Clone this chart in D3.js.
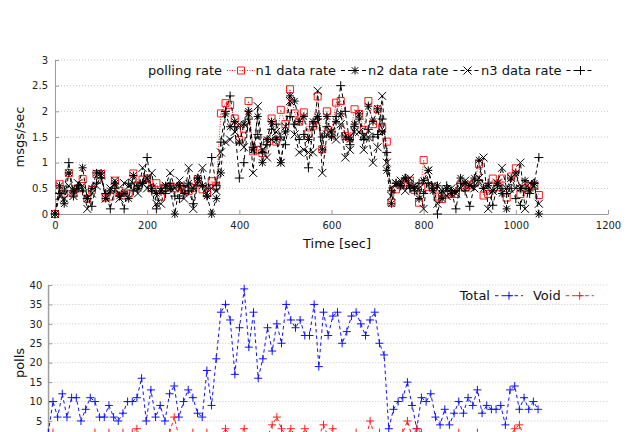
<!DOCTYPE html>
<html><head><meta charset="utf-8">
<script src="https://cdn.jsdelivr.net/npm/d3@7"></script>
<style>html,body{margin:0;padding:0;background:#fff;overflow:hidden}svg{display:block}</style>
</head><body>
<script>
// ---------- DATA ----------
const times = [0,10,20,30,40,50,60,70,80,90,100,110,120,130,140,150,160,170,180,190,200,210,220,230,240,250,260,270,280,290,300,310,320,330,340,350,360,370,380,390,400,410,420,430,440,450,460,470,480,490,500,510,520,530,540,550,560,570,580,590,600,610,620,630,640,650,660,670,680,690,700,710,720,730,740,750,760,770,780,790,800,810,820,830,840,850,860,870,880,890,900,910,920,930,940,950,960,970,980,990,1000,1010,1020,1030,1040,1050];

const pollingRate = [0,.58,.4,.8,.4,.5,.68,.3,.47,.78,.78,.32,.34,.65,.45,.36,.4,.79,.55,.67,.69,.5,.6,.34,.51,.53,.5,.53,.48,.45,.51,.68,.48,.4,.64,.55,
1.96,2.16,2.12,1.86,1.44,1.66,2.2,1.22,1.25,1.19,1.41,1.86,1.41,2.03,1.75,2.43,1.96,1.8,1.98,1.57,1.72,2.29,1.26,2.0,1.58,2.17,2.2,1.52,1.49,2.04,1.95,1.64,2.2,1.75,2.04,1.69,1.41,
.22,.48,.56,.61,.65,.47,.22,1.05,.53,.52,.34,.29,.38,.39,.39,.56,.52,.56,.6,.97,.36,.39,.69,.52,.69,.32,.73,.89,.39,.5,.55,.55,.37];

const n1Rate = [0,.55,.2,.8,.45,.5,.9,.3,.5,.8,.8,.3,.45,.6,.35,.4,.3,.75,.5,.6,.7,.5,.4,.45,.55,.5,0,.55,.4,.6,.5,.7,.55,.35,0,.3,
.8,1.95,1.7,1.8,1.4,1.75,2.0,1.25,1.9,1.0,1.45,1.8,1.45,1.0,1.6,2.3,2.2,1.8,1.9,1.45,1.8,1.9,1.25,1.9,1.5,1.8,1.95,1.5,1.45,1.75,1.95,1.5,2.1,1.8,2.05,1.6,.85,
.2,.6,.55,.7,.55,.5,.3,.65,.85,.45,.55,.3,.5,.4,.45,.7,.6,.55,.7,1.05,.5,.55,.45,.6,.4,.1,.7,.8,.5,.65,.45,.6,0];

const n2Rate = [0,.35,.3,.55,.35,.6,.55,.1,.4,.55,.75,.3,.5,.65,.3,.6,.55,.6,.4,.9,.5,.8,.2,.2,.55,.8,.5,.65,.3,.9,.1,.6,.9,.5,.5,.45,
1.2,1.4,1.45,1.6,1.75,1.3,1.95,.8,2.1,1.25,1.1,1.45,1.6,1.0,1.7,2.2,1.55,1.2,1.25,1.2,1.2,2.4,.8,1.55,1.6,1.45,1.75,1.1,1.25,1.6,1.6,1.25,1.5,1.0,1.3,2.3,1.0,
.35,.6,.65,.45,.7,.55,.5,.1,.85,.55,.2,.45,.35,.5,.4,.5,.65,.55,.5,.7,1.1,.1,.45,.6,.9,.5,.7,.5,1.0,.1,.6,.55,.2,0];

const n3Rate = [0,.4,.45,1.0,.35,.55,.45,.3,.15,.6,.7,.4,.1,.5,.35,.1,.6,.45,.55,.6,1.1,.45,.1,.5,.4,.6,.35,.3,.55,.45,.2,.7,.55,.35,1.1,.55,
1.4,2.0,2.3,1.7,.7,1.0,1.85,1.3,1.55,1.2,1.35,1.65,1.75,1.5,1.35,1.9,1.75,1.45,1.55,.9,1.7,1.85,1.5,1.7,1.6,1.9,2.5,2.0,1.35,1.7,1.85,1.45,1.65,1.5,1.55,1.85,1.2,
.45,.6,.55,.7,.5,.45,.6,.4,.6,.5,0,.45,.55,.45,.1,.6,.45,.15,.55,.65,.5,.6,.17,.55,.5,.4,.5,.3,.17,.5,.4,.6,1.1];

const totalPolls = [2,10,6,12,6,11,11,5,8,11,10,6,6,9,6,5,7,10,10,11,16,5,13,6,9,5,12,14,6,10,13,11,7,6,18,9,
21,33,35,31,17,29,39,24,33,16,21,29,23,30,25,35,31,29,31,27,27,35,19,33,27,32,33,25,28,32,33,30,27,31,33,25,22,
3,8,10,11,15,9,3,11,10,12,6,4,8,4,7,10,7,11,9,13,7,9,8,8,9,4,13,14,8,11,8,10,8];

const voidPolls = [0,2,1,0,1,0,1,0,1,0,2,1,0,2,0,1,2,0,2,3,1,0,1,0,1,0,2,6,1,0,1,2,0,1,2,1,
0,1,3,1,0,1,3,1,0,1,0,1,4,6,3,1,3,1,0,3,1,0,1,4,1,3,0,1,1,0,2,1,0,5,1,2,1,
0,1,0,2,5,1,3,2,1,0,1,0,1,0,1,2,1,0,1,2,1,0,1,0,1,0,1,3,4,1,0,1,0,1];

const xTicksTop = [0,200,400,600,800,1000,1200];
const yTicksTop = [0,0.5,1,1.5,2,2.5,3];
const yTicksBottom = [5,10,15,20,25,30,35,40];
const topLegend = ["polling rate","n1 data rate","n2 data rate","n3 data rate"];
const bottomLegend = ["Total","Void"];

// ---------- DRAW ----------
const W=634,H=432, FONT='"DejaVu Sans", sans-serif';
const svg=d3.select("body").append("svg").attr("width",W).attr("height",H);
svg.append("rect").attr("width",W).attr("height",H).attr("fill","#fff");

const xT=d3.scaleLinear().domain([0,1200]).range([55,608]);
const yT=d3.scaleLinear().domain([0,3]).range([214,60]);
const xB=d3.scaleLinear().domain([0,1200]).range([48.3,608]);
const yB=d3.scaleLinear().domain([0,40]).range([440.4,285]);

function grid(x,y,ticks){
  svg.append("g").selectAll("line").data(ticks.filter(d=>d>0)).join("line")
    .attr("x1",x.range()[0]).attr("x2",x.range()[1])
    .attr("y1",d=>y(d)).attr("y2",d=>y(d))
    .attr("stroke","#c4c4c4").attr("stroke-width",1).attr("stroke-dasharray","1,2");
}
function styleAxis(g){
  g.attr("font-family",FONT).attr("font-size",10);
  g.select(".domain").attr("stroke","#9a9a9a");
  g.selectAll(".tick line").attr("stroke","#9a9a9a");
  g.selectAll(".tick text").attr("fill","#222");
}
grid(xT,yT,yTicksTop);
grid(xB,yB,yTicksBottom);

const fmt=d3.format("~g");
svg.append("g").attr("transform","translate(55,0)")
  .call(d3.axisLeft(yT).tickValues(yTicksTop).tickSize(-4).tickSizeOuter(0).tickPadding(7).tickFormat(fmt)).call(styleAxis);
svg.append("g").attr("transform","translate(0,214)")
  .call(d3.axisBottom(xT).tickValues(xTicksTop).tickSize(-4).tickSizeOuter(0).tickPadding(8).tickFormat(fmt)).call(styleAxis);
svg.append("g").attr("transform","translate(48.3,0)")
  .call(d3.axisLeft(yB).tickValues(yTicksBottom).tickSize(-4).tickSizeOuter(0).tickPadding(6).tickFormat(fmt)).call(styleAxis);
// extend bottom-plot y axis line down to the (off-screen) origin
svg.append("line").attr("x1",48.3).attr("x2",48.3).attr("y1",yB(0)).attr("y2",yB(40)).attr("stroke","#9a9a9a");

// axis titles
svg.append("text").attr("x",337).attr("y",248).attr("text-anchor","middle")
  .attr("font-family",FONT).attr("font-size",13).attr("fill","#111").text("Time [sec]");
svg.append("text").attr("transform","translate(24,137) rotate(-90)").attr("text-anchor","middle")
  .attr("font-family",FONT).attr("font-size",13).attr("fill","#111").text("msgs/sec");
svg.append("text").attr("transform","translate(24,363) rotate(-90)").attr("text-anchor","middle")
  .attr("font-family",FONT).attr("font-size",13).attr("fill","#111").text("polls");

// markers
const M={
  plus:(x,y,r)=>`M${x-r},${y}H${x+r}M${x},${y-r}V${y+r}`,
  cross:(x,y,r)=>`M${x-r},${y-r}L${x+r},${y+r}M${x-r},${y+r}L${x+r},${y-r}`,
  star:(x,y,r)=>`M${x-r},${y}H${x+r}M${x},${y-r}V${y+r}`+(k=>`M${x-k},${y-k}L${x+k},${y+k}M${x-k},${y+k}L${x+k},${y-k}`)(r*0.8),
  square:(x,y,r)=>`M${x-r},${y-r}h${2*r}v${2*r}h${-2*r}Z`
};
function series(x,y,xs,vs,color,dash,marker,r){
  const g=svg.append("g");
  const line=d3.line().x((d,i)=>x(xs[i])).y(d=>y(d));
  g.append("path").attr("d",line(vs)).attr("fill","none").attr("stroke",color)
    .attr("stroke-width",1).attr("stroke-dasharray",dash);
  g.append("path").attr("d",vs.map((v,i)=>M[marker](x(xs[i]),y(v),r)).join(""))
    .attr("fill","none").attr("stroke",color).attr("stroke-width",1);
}
series(xT,yT,times,pollingRate,"#ff1a1a","1,1.5","square",3.5);
series(xT,yT,times,n1Rate,"#000","4,3","star",4);
series(xT,yT,times,n2Rate,"#000","4,3","cross",4);
series(xT,yT,times,n3Rate,"#000","4,3","plus",4.5);
series(xB,yB,times,totalPolls,"#1010ff","3.5,3","plus",4);
series(xB,yB,times,voidPolls,"#ff1a1a","3.5,3","plus",4);

// legends
function legend(labels,ends,y,styles){
  labels.forEach((lab,i)=>{
    const e=ends[i], s=styles[i];
    svg.append("text").attr("x",e).attr("y",y).attr("dy","0.35em").attr("text-anchor","end")
      .attr("font-family",FONT).attr("font-size",13).attr("fill","#111").text(lab);
    svg.append("line").attr("x1",e+5).attr("x2",e+33).attr("y1",y).attr("y2",y)
      .attr("stroke",s.color).attr("stroke-width",1).attr("stroke-dasharray",s.dash);
    svg.append("path").attr("d",M[s.marker](e+19,y,s.r)).attr("fill","none").attr("stroke",s.color).attr("stroke-width",1);
  });
}
legend(topLegend,[222,336,448.5,561.5],70.5,[
  {color:"#ff1a1a",dash:"1,1.5",marker:"square",r:3.5},
  {color:"#000",dash:"4,3",marker:"star",r:4},
  {color:"#000",dash:"4,3",marker:"cross",r:4},
  {color:"#000",dash:"4,3",marker:"plus",r:4.5}]);
legend(bottomLegend,[490,560.7],295.7,[
  {color:"#1010ff",dash:"3.5,3",marker:"plus",r:4},
  {color:"#ff1a1a",dash:"3.5,3",marker:"plus",r:4}]);
</script>
</body></html>
